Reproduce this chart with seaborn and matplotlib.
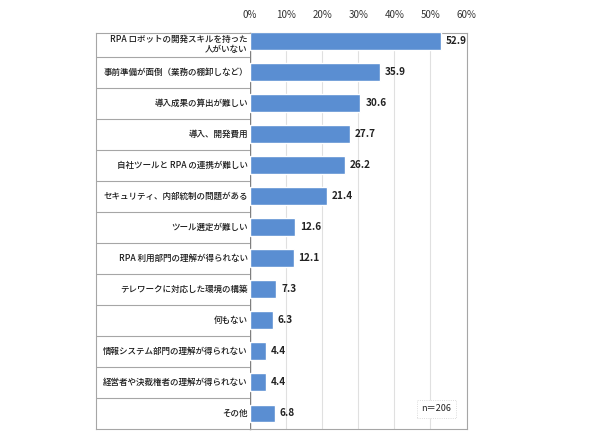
import matplotlib
matplotlib.use('Agg')
import pandas as pd
import seaborn as sns
import matplotlib.pyplot as plt

# 課題（n=206, %）
categories = [
    'RPA ロボットの開発スキルを持った\n人がいない',
    '事前準備が面倒（業務の棚卸しなど）',
    '導入成果の算出が難しい',
    '導入、開発費用',
    '自社ツールと RPA の連携が難しい',
    'セキュリティ、内部統制の問題がある',
    'ツール選定が難しい',
    'RPA 利用部門の理解が得られない',
    'テレワークに対応した環境の構築',
    '何もない',
    '情報システム部門の理解が得られない',
    '経営者や決裁権者の理解が得られない',
    'その他',
]
values = [52.9, 35.9, 30.6, 27.7, 26.2, 21.4, 12.6, 12.1, 7.3, 6.3, 4.4, 4.4, 6.8]
x_ticks = [0, 10, 20, 30, 40, 50, 60]
x_tick_labels = ['0%', '10%', '20%', '30%', '40%', '50%', '60%']
note = 'n＝206'

df = pd.DataFrame({'item': categories, 'pct': values})

sns.set_style('white')
plt.rcParams['font.family'] = ['Noto Sans CJK JP', 'DejaVu Sans']

W, H = 590, 443
fig = plt.figure(figsize=(W / 100, H / 100), dpi=100)

top_px, bottom_px = 33, 429
x0_px, x1_px, lab_px = 250, 466.5, 96
ax = fig.add_axes([x0_px / W, 1 - bottom_px / H, (x1_px - x0_px) / W, (bottom_px - top_px) / H])
lab = fig.add_axes([lab_px / W, 1 - bottom_px / H, (x0_px - lab_px) / W, (bottom_px - top_px) / H])

ylim = (12.5, -0.27)

sns.barplot(data=df, x='pct', y='item', orient='h', color='#5A8ED2',
            width=0.58, saturation=1, ax=ax, zorder=3)
ax.set_xlim(0, 60)
ax.set_ylim(*ylim)
ax.set_xlabel('')
ax.set_ylabel('')
ax.set_yticks([])
ax.xaxis.tick_top()
ax.set_xticks(x_ticks)
ax.set_xticklabels(x_tick_labels, fontsize=7, color='#333333')
ax.tick_params(axis='x', length=0, pad=9)
ax.grid(axis='x', color='#e0e0e0', linewidth=0.8, zorder=0)
for side in ['top', 'right', 'bottom']:
    ax.spines[side].set_color('#a6a6a6')
    ax.spines[side].set_linewidth(0.8)
ax.spines['left'].set_color('#7f7f7f')
ax.spines['left'].set_linewidth(1.0)

ax.bar_label(ax.containers[0], fmt='%.1f', padding=3.5, fontsize=7.2,
             fontweight='bold', color='#222222')

# 左側のラベル欄
lab.set_xlim(0, 1)
lab.set_ylim(*ylim)
lab.set_xticks([])
lab.set_yticks([])
for k in range(len(categories) - 1):
    lab.axhline(k + 0.5, color='#a6a6a6', linewidth=0.8)
for i, c in enumerate(categories):
    # 2行ラベルは上枠にかからないよう少し下げる
    y = i + 0.1 if '\n' in c else i
    lab.text(0.985, y, c, ha='right', va='center', fontsize=6.15,
             fontweight='medium', color='#1a1a1a', linespacing=1.05)
for side in ['top', 'left', 'bottom']:
    lab.spines[side].set_color('#a6a6a6')
    lab.spines[side].set_linewidth(0.8)
lab.spines['right'].set_visible(False)

# n=206 注記
ax.text(0.93, 0.04, note, transform=ax.transAxes, ha='right', va='bottom',
        fontsize=6.5, color='#222222', zorder=5,
        bbox=dict(boxstyle='square,pad=0.5', fc='white', ec='#d0d0d0',
                  lw=0.6, ls=':'))

fig.savefig('out.png', dpi=100)
